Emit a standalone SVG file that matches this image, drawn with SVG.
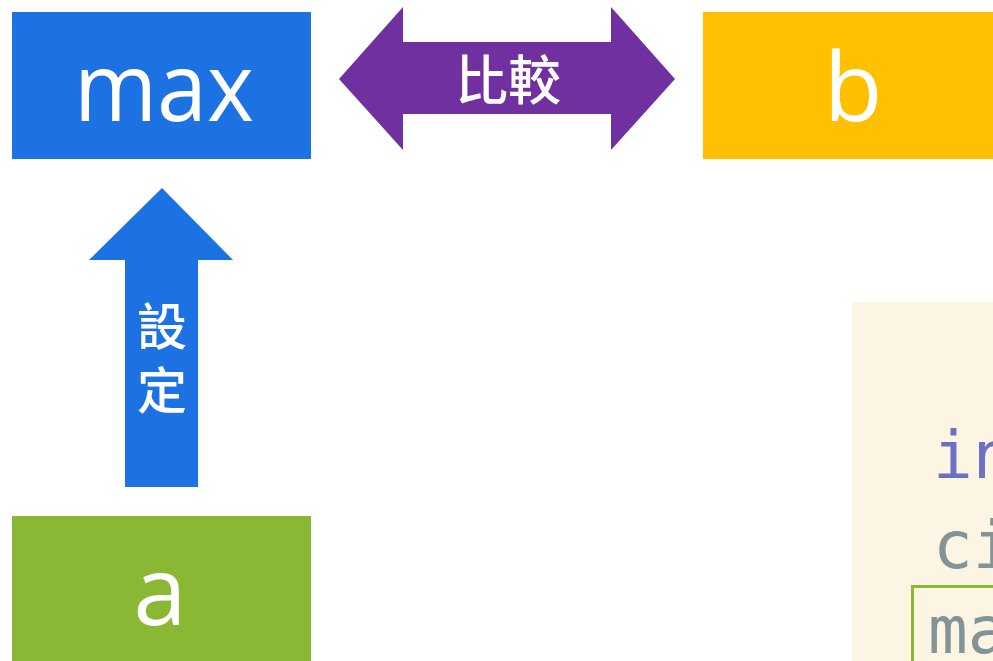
<svg xmlns="http://www.w3.org/2000/svg" width="993" height="661" viewBox="0 0 993 661">
<style>
.lbl{font-family:"Open Sans","Noto Sans",sans-serif;font-size:96px;fill:#fff;text-anchor:middle}
.cjk{font-family:"Noto Sans CJK TC","Noto Sans CJK JP",sans-serif;font-weight:500;fill:#fff;text-anchor:middle;dominant-baseline:central}
.code{font-family:"DejaVu Sans Mono","Liberation Mono",monospace;font-size:66px}
</style>
<rect width="993" height="661" fill="#fff"/>
<g id="code-panel">
<rect x="852" y="302" width="141" height="359" fill="#fcf5e3"/>
<text class="code" x="933" y="478" fill="#6c71c4">int</text>
<text class="code" x="933" y="568" fill="#839496">cin</text>
<rect x="912.5" y="586.5" width="100" height="100" fill="none" stroke="#8ab833" stroke-width="3"/>
<text class="code" x="928" y="653" fill="#839496">max</text>
</g>
<g id="node-max">
<rect x="12" y="12" width="299" height="147" fill="#1c72e3"/>
<text class="lbl" x="164" y="121" textLength="180" lengthAdjust="spacingAndGlyphs">max</text>
</g>
<g id="node-b">
<rect x="703" y="12" width="290" height="147" fill="#fec000"/>
<text class="lbl" x="853" y="121">b</text>
</g>
<g id="node-a">
<rect x="12" y="516" width="299" height="145" fill="#8bb834"/>
<text class="lbl" x="160" y="625">a</text>
</g>
<g id="connectors">
<g id="compare">
<polygon points="339,79 403,7 403,42 611,42 611,7 675,79 611,150 611,114 403,114 403,150" fill="#7030a0"/>
<text class="cjk" x="508" y="77" font-size="53">比較</text>
</g>
<g id="set">
<polygon points="162,188 233,260 198,260 198,487 125,487 125,260 89,260" fill="#1c72e3"/>
<text class="cjk" x="162" y="323" font-size="50">設</text>
<text class="cjk" x="162" y="387" font-size="50">定</text>
</g>
</g>
</svg>
